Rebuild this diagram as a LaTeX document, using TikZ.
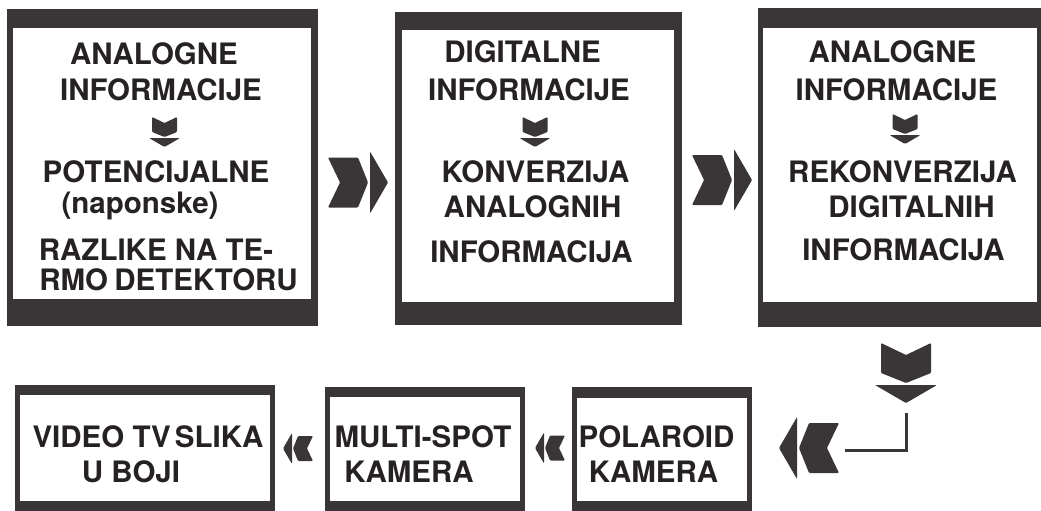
\documentclass[tikz,border=0pt]{standalone}
\usepackage{fontspec}
\setmainfont{TeX Gyre Heros}
\usetikzlibrary{calc}
\definecolor{ink}{HTML}{3A3637}
\definecolor{txt}{HTML}{262223}
\newcommand\boxfr[9]{%
  \node[frame, minimum width=#4pt, minimum height=#5pt] (#1) at (#2,#3) {};
  \fill[white] ([xshift=#6pt,yshift=-#7pt]#1.north west) rectangle ([xshift=-#8pt,yshift=#9pt]#1.south east);
}
\tikzset{
  frame/.style={fill=ink, draw=none, inner sep=0pt, outer sep=0pt, anchor=north west},
  lbl/.style={anchor=base, inner sep=0pt, outer sep=0pt, text=txt, font=\fontsize{29.5}{36}\selectfont\bfseries},
  flowarr/.pic={
    \fill[ink, rounded corners=1pt] (-12.5,-15) -- (0,-9) -- (12.5,-15) -- (12.5,0) -- (0,5) -- (-12.5,0) -- cycle;
    \fill[ink, rounded corners=1pt] (-15.5,6) -- (15.5,6) -- (0,15) -- cycle;
  }
}
\begin{document}
\begin{tikzpicture}[x=1pt,y=-1pt]
\useasboundingbox (0,0) rectangle (1041,511);
\fill[white] (0,0) rectangle (1041,511);
% frames
\boxfr{b1}{7}{9}{311}{317}{6}{19}{7}{27}
\boxfr{b2}{395}{12}{287}{313}{7}{18}{8}{23}
\boxfr{b3}{758}{8}{283}{319}{5}{20}{4}{25}
\boxfr{b4}{15}{385}{260}{126}{5}{10}{5}{10}
\boxfr{b5}{325}{387}{200}{124}{5}{10}{5}{10}
\boxfr{b6}{572}{387}{180}{124}{5}{11}{5}{10}
% box 1 text
\node[lbl] (t1a) at (154,65) {ANALOGNE};
\node[lbl] (t1b) at (161,100) {INFORMACIJE};
\pic at (164.5,132) {flowarr};
\node[lbl] (t1c) at (156,182) {POTENCIJALNE};
\node[lbl] (t1d) at (140,213) {(naponske)};
\node[lbl] (t1e) at (156,260) {RAZLIKE NA TE-};
\node[lbl] (t1f) at (168.5,290) {RMO\kern-2pt\ DETEKTORU};
% box 2 text
\node[lbl] (t2a) at (522.5,63) {DIGITALNE};
\node[lbl] (t2b) at (529,100) {INFORMACIJE};
\pic at (535,132) {flowarr};
\node[lbl] (t2c) at (535.5,182) {KONVERZIJA};
\node[lbl] (t2d) at (532.5,217) {ANALOGNIH};
\node[lbl] (t2e) at (531.5,262) {INFORMACIJA};
% box 3 text
\node[lbl] (t3a) at (892.5,63) {ANALOGNE};
\node[lbl] (t3b) at (896.5,100) {INFORMACIJE};
\pic at (905,129) {flowarr};
\node[lbl] (t3c) at (902.5,182) {REKONVERZIJA};
\node[lbl] (t3d) at (911.5,217) {DIGITALNIH};
\node[lbl] (t3e) at (903.5,260) {INFORMACIJA};
% bottom boxes text
\node[lbl] (t4a) at (148,447) {VIDEO TV\kern-4pt\ SLIKA};
\node[lbl] (t4b) at (131,482) {U BOJI};
\node[lbl] (t5a) at (423,447) {MULTI-SPOT};
\node[lbl] (t5b) at (409,482) {KAMERA};
\node[lbl] (t6a) at (656.5,447) {POLAROID};
\node[lbl] (t6b) at (653.5,482) {KAMERA};
% arrows between boxes
\pic[rotate=90, scale=2] at ($(b1.east)!0.5!(b2.west)+(1.5,14.5)$) {flowarr};
\pic[rotate=90, scale=2] at ($(b2.east)!0.5!(b3.west)+(2,12)$) {flowarr};
\coordinate (dn) at (906,373);
\coordinate (lf) at (809,448);
\pic[scale=2] at (dn) {flowarr};
\pic[rotate=-90, scale=2] at (lf) {flowarr};
\coordinate (c1) at (906,413);
\coordinate (c2) at (845,450);
\draw[ink, line width=3pt] (c1) |- (c2);
\pic[rotate=-90] at ($(b4.east)!0.5!(b5.west)+(-2,0)$) {flowarr};
\pic[rotate=-90] at ($(b5.east)!0.5!(b6.west)+(1.5,-1)$) {flowarr};
\end{tikzpicture}
\end{document}
